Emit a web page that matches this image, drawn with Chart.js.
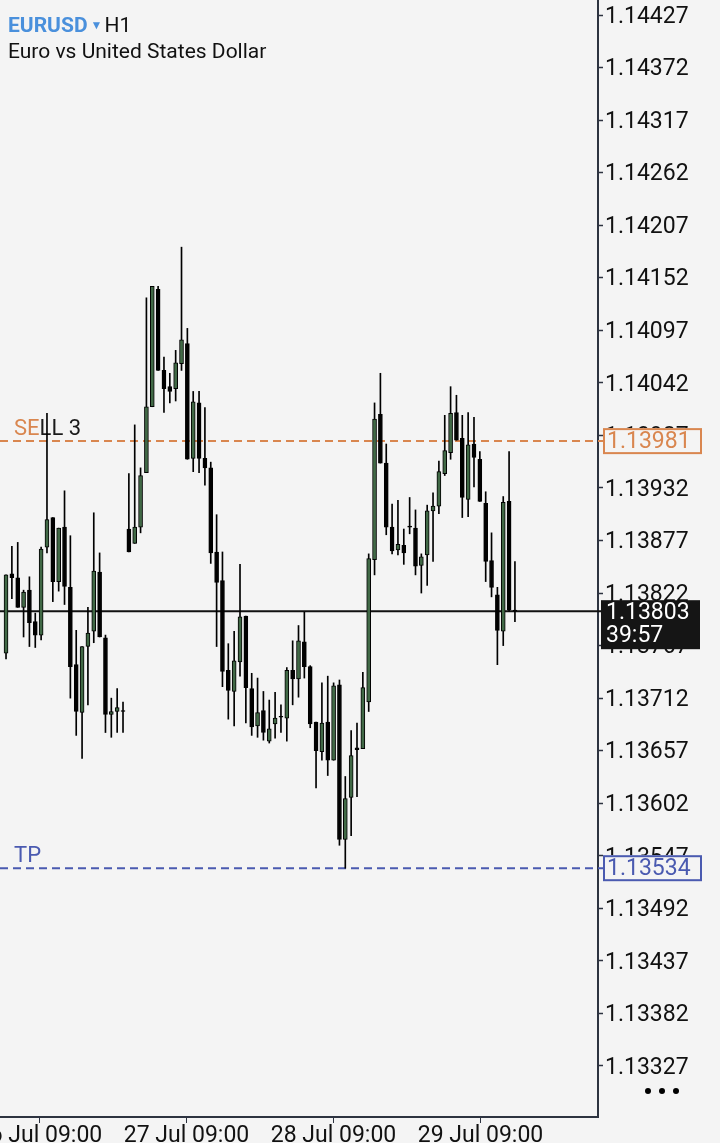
<!DOCTYPE html>
<html lang="en">
<head>
<meta charset="UTF-8">
<title>EURUSD H1</title>
<script src="https://cdn.jsdelivr.net/npm/chart.js"></script>
<style>
  html, body { margin: 0; padding: 0; background: #f4f4f4; }
  #wrap { position: relative; width: 720px; height: 1143px; overflow: hidden; }
  #head {
    position: absolute; left: 8px; top: 12px;
    font-family: Roboto, sans-serif; font-size: 21px; line-height: 26px; color: #111;
  }
  #head .sym { color: #4a90dc; font-weight: bold; }
  #head .arr { color: #4a90dc; font-size: 12px; vertical-align: 3px; margin: 0 2px 0 3px; }
</style>
</head>
<body>
<div id="wrap">
  <canvas id="chart" width="720" height="1143"></canvas>
  <div id="head">
    <div><span class="sym">EURUSD</span><span class="arr">▼</span>H1</div>
    <div>Euro vs United States Dollar</div>
  </div>
</div>

<script>
  // H1 candles
  const candleOpen = [
    1.13759, 1.13842, 1.13838, 1.13807, 1.13825, 1.13792, 1.13778, 1.13870, 1.13901, 1.13834,
    1.13891, 1.13828, 1.13747, 1.13697, 1.13766, 1.13782, 1.13844, 1.13775, 1.13695, 1.13698,
    1.13698, 1.13889, 1.13874, 1.13891, 1.13948, 1.14017, 1.14140, 1.14055, 1.14038, 1.14036,
    1.14062, 1.14083, 1.13963, 1.14021, 1.13963, 1.13953, 1.13865, 1.13835, 1.13741, 1.13719,
    1.13750, 1.13798, 1.13722, 1.13683, 1.13699, 1.13667, 1.13685, 1.13692, 1.13691, 1.13741,
    1.13732, 1.13771, 1.13745, 1.13687, 1.13656, 1.13687, 1.13647, 1.13726, 1.13564, 1.13608,
    1.13660, 1.13659, 1.13708, 1.13857, 1.14009, 1.13958, 1.13891, 1.13867, 1.13872, 1.13891,
    1.13890, 1.13851, 1.13862, 1.13908, 1.13913, 1.13947, 1.13969, 1.14011, 1.13984, 1.13920,
    1.13978, 1.13962, 1.13916, 1.13856, 1.13820, 1.13782, 1.13918, 1.13803
  ];
  const candleHigh = [
    1.13841, 1.13871, 1.13875, 1.13825, 1.13839, 1.13801, 1.13870, 1.14010, 1.13901, 1.13890,
    1.13929, 1.13882, 1.13783, 1.13766, 1.13807, 1.13906, 1.13864, 1.13778, 1.13712, 1.13722,
    1.13708, 1.13947, 1.13998, 1.13953, 1.14131, 1.14143, 1.14143, 1.14069, 1.14052, 1.14076,
    1.14184, 1.14099, 1.14033, 1.14033, 1.14016, 1.13959, 1.13904, 1.13865, 1.13769, 1.13782,
    1.13852, 1.13798, 1.13738, 1.13733, 1.13719, 1.13710, 1.13718, 1.13705, 1.13744, 1.13772,
    1.13788, 1.13802, 1.13746, 1.13687, 1.13728, 1.13735, 1.13728, 1.13731, 1.13630, 1.13678,
    1.13686, 1.13739, 1.13863, 1.14021, 1.14052, 1.13978, 1.13915, 1.13919, 1.13889, 1.13922,
    1.13909, 1.13863, 1.13914, 1.13927, 1.13960, 1.14008, 1.14038, 1.14029, 1.14008, 1.14011,
    1.14006, 1.13970, 1.13928, 1.13885, 1.13828, 1.13923, 1.13970, 1.13855
  ];
  const candleLow = [
    1.13753, 1.13816, 1.13807, 1.13776, 1.13766, 1.13765, 1.13773, 1.13864, 1.13813, 1.13824,
    1.13810, 1.13712, 1.13673, 1.13649, 1.13705, 1.13770, 1.13776, 1.13676, 1.13671, 1.13676,
    1.13676, 1.13865, 1.13874, 1.13885, 1.13948, 1.14017, 1.14055, 1.14011, 1.14021, 1.14023,
    1.14055, 1.13962, 1.13949, 1.13948, 1.13935, 1.13853, 1.13766, 1.13724, 1.13690, 1.13683,
    1.13735, 1.13686, 1.13673, 1.13671, 1.13668, 1.13665, 1.13670, 1.13676, 1.13667, 1.13705,
    1.13713, 1.13733, 1.13681, 1.13618, 1.13647, 1.13631, 1.13647, 1.13558, 1.13534, 1.13568,
    1.13609, 1.13659, 1.13698, 1.13841, 1.13958, 1.13883, 1.13863, 1.13862, 1.13852, 1.13884,
    1.13841, 1.13822, 1.13830, 1.13855, 1.13905, 1.13945, 1.13962, 1.13982, 1.13901, 1.13902,
    1.13933, 1.13918, 1.13834, 1.13818, 1.13747, 1.13767, 1.13803, 1.13792
  ];
  const candleClose = [
    1.13841, 1.13838, 1.13807, 1.13823, 1.13791, 1.13778, 1.13868, 1.13899, 1.13834, 1.13890,
    1.13829, 1.13745, 1.13698, 1.13766, 1.13780, 1.13845, 1.13776, 1.13695, 1.13698, 1.13702,
    1.13698, 1.13865, 1.13891, 1.13945, 1.14017, 1.14143, 1.14055, 1.14036, 1.14033, 1.14063,
    1.14087, 1.13962, 1.14022, 1.13963, 1.13953, 1.13864, 1.13833, 1.13740, 1.13720, 1.13751,
    1.13797, 1.13723, 1.13682, 1.13697, 1.13676, 1.13680, 1.13691, 1.13692, 1.13741, 1.13732,
    1.13772, 1.13745, 1.13685, 1.13657, 1.13686, 1.13647, 1.13725, 1.13564, 1.13607, 1.13652,
    1.13658, 1.13723, 1.13858, 1.14004, 1.13958, 1.13891, 1.13866, 1.13873, 1.13864, 1.13891,
    1.13850, 1.13860, 1.13908, 1.13913, 1.13949, 1.13971, 1.14010, 1.13982, 1.13922, 1.13977,
    1.13964, 1.13918, 1.13855, 1.13828, 1.13783, 1.13917, 1.13804, 1.13803
  ];

  // price axis ticks
  const priceTicks = [
    1.14427, 1.14372, 1.14317, 1.14262, 1.14207, 1.14152, 1.14097, 1.14042, 1.13987, 1.13932,
    1.13877, 1.13822, 1.13767, 1.13712, 1.13657, 1.13602, 1.13547, 1.13492, 1.13437, 1.13382, 1.13327
  ];
  // time axis labels and their position in bars
  const timeLabels = ['26 Jul 09:00', '27 Jul 09:00', '28 Jul 09:00', '29 Jul 09:00'];
  const timePos = [5.6, 30.8, 55.9, 81.0];

  // order levels
  const sellLevel = 1.13981;
  const tpLevel = 1.13534;
  const lastPrice = 1.13803;
  const timeLeft = '39:57';

  const bg = '#f4f4f4';
  const orange = '#d9864f';
  const blue = '#4a5ab0';
  const bullColor = '#416946';
  const axisColor = '#2d3340';
  const font = 'Roboto, sans-serif';

  const idx = candleOpen.map((_, i) => i);

  function drawDashed(ctx, x0, x1, yy, color) {
    ctx.save();
    ctx.strokeStyle = color;
    ctx.lineWidth = 2;
    ctx.setLineDash([8, 5]);
    ctx.beginPath();
    ctx.moveTo(x0, yy);
    ctx.lineTo(x1, yy);
    ctx.stroke();
    ctx.restore();
  }

  function levelBox(ctx, yy, text, color) {
    ctx.save();
    ctx.fillStyle = bg;
    ctx.fillRect(603, yy - 13, 99, 26);
    ctx.strokeStyle = color;
    ctx.lineWidth = 2;
    ctx.strokeRect(604, yy - 12, 97, 24);
    ctx.fillStyle = color;
    ctx.font = '23px ' + font;
    ctx.textAlign = 'left';
    ctx.textBaseline = 'middle';
    ctx.fillText(text, 607, yy + 1);
    ctx.restore();
  }

  const overlay = {
    id: 'overlay',
    beforeDatasetsDraw(chart) {
      const { ctx, chartArea: a, scales: { y } } = chart;
      ctx.save();

      // SELL 3
      const ys = y.getPixelForValue(sellLevel);
      drawDashed(ctx, a.left, 604, ys, orange);
      ctx.font = '22px ' + font;
      ctx.textAlign = 'left';
      ctx.textBaseline = 'alphabetic';
      ctx.fillStyle = orange;
      ctx.fillText('SE', 14, ys - 6);
      const w = ctx.measureText('SE').width;
      ctx.fillStyle = '#1a1a1a';
      ctx.fillText('LL 3', 14 + w, ys - 6);

      // TP
      const yt = y.getPixelForValue(tpLevel);
      drawDashed(ctx, a.left, 604, yt, blue);
      ctx.fillStyle = blue;
      ctx.fillText('TP', 14, yt - 6);

      // last price line
      const yp = y.getPixelForValue(lastPrice);
      ctx.strokeStyle = '#111';
      ctx.lineWidth = 2;
      ctx.beginPath();
      ctx.moveTo(a.left, yp);
      ctx.lineTo(602, yp);
      ctx.stroke();
      ctx.restore();
    },
    afterDraw(chart) {
      const { ctx, chartArea: a, scales: { x, y } } = chart;
      ctx.save();

      // bottom frame
      ctx.strokeStyle = axisColor;
      ctx.lineWidth = 2;
      ctx.beginPath();
      ctx.moveTo(a.left, a.bottom);
      ctx.lineTo(a.right + 1, a.bottom);
      ctx.stroke();

      // time axis
      ctx.font = '23px ' + font;
      ctx.fillStyle = '#111';
      ctx.textAlign = 'center';
      ctx.textBaseline = 'alphabetic';
      ctx.lineWidth = 1;
      timeLabels.forEach((t, i) => {
        const px = Math.round(x.getPixelForValue(timePos[i])) + 0.5;
        ctx.beginPath();
        ctx.moveTo(px, a.bottom);
        ctx.lineTo(px, a.bottom + 6);
        ctx.stroke();
        ctx.fillText(t, px, 1142);
      });

      // level boxes on the price axis
      levelBox(ctx, y.getPixelForValue(sellLevel), sellLevel.toFixed(5), orange);
      levelBox(ctx, y.getPixelForValue(tpLevel), tpLevel.toFixed(5), blue);

      const yp = y.getPixelForValue(lastPrice);
      ctx.fillStyle = '#151515';
      ctx.fillRect(601, yp - 11, 99, 49);
      ctx.fillStyle = '#fff';
      ctx.font = '23px ' + font;
      ctx.textAlign = 'left';
      ctx.textBaseline = 'middle';
      ctx.fillText(lastPrice.toFixed(5), 606, yp + 2);
      ctx.fillText(timeLeft, 606, yp + 25);

      // menu dots
      ctx.fillStyle = '#000';
      [648, 662, 676].forEach(cx => {
        ctx.beginPath();
        ctx.arc(cx, 1091, 3, 0, Math.PI * 2);
        ctx.fill();
      });
      ctx.restore();
    }
  };

  const ctx = document.getElementById('chart').getContext('2d');
  const chart = new Chart(ctx, {
    type: 'bar',
    data: {
      datasets: [
        {
          label: 'wick',
          data: idx.map(i => ({ x: i, y: [candleLow[i], candleHigh[i]] })),
          backgroundColor: '#000',
          barThickness: 1,
          minBarLength: 1,
          grouped: false,
          order: 2
        },
        {
          label: 'body',
          data: idx.map(i => ({ x: i, y: [candleOpen[i], candleClose[i]] })),
          backgroundColor: idx.map(i => candleClose[i] > candleOpen[i] ? bullColor : '#000'),
          borderColor: '#000',
          borderWidth: 1,
          borderSkipped: false,
          barThickness: 4,
          minBarLength: 1,
          grouped: false,
          order: 1
        }
      ]
    },
    options: {
      responsive: false,
      animation: false,
      layout: { padding: { left: 0, top: 0, right: 0, bottom: 26 } },
      plugins: { legend: { display: false }, tooltip: { enabled: false } },
      scales: {
        x: {
          type: 'linear',
          min: -1.03,
          max: 101.2,
          offset: false,
          display: false
        },
        y: {
          position: 'right',
          min: 1.132736,
          max: 1.144427,
          afterBuildTicks: s => { s.ticks = priceTicks.map(v => ({ value: v })); },
          afterFit: s => { s.width = 122; s.paddingTop = 0; s.paddingBottom = 0; },
          ticks: {
            autoSkip: false,
            padding: 2,
            labelOffset: 2,
            color: '#111',
            font: { family: 'Roboto', size: 23 },
            callback: v => v.toFixed(5)
          },
          grid: { drawOnChartArea: false, tickLength: 5, color: axisColor, tickWidth: 1.5 },
          border: { color: axisColor, width: 2 }
        }
      }
    },
    plugins: [overlay]
  });
</script>
</body>
</html>
